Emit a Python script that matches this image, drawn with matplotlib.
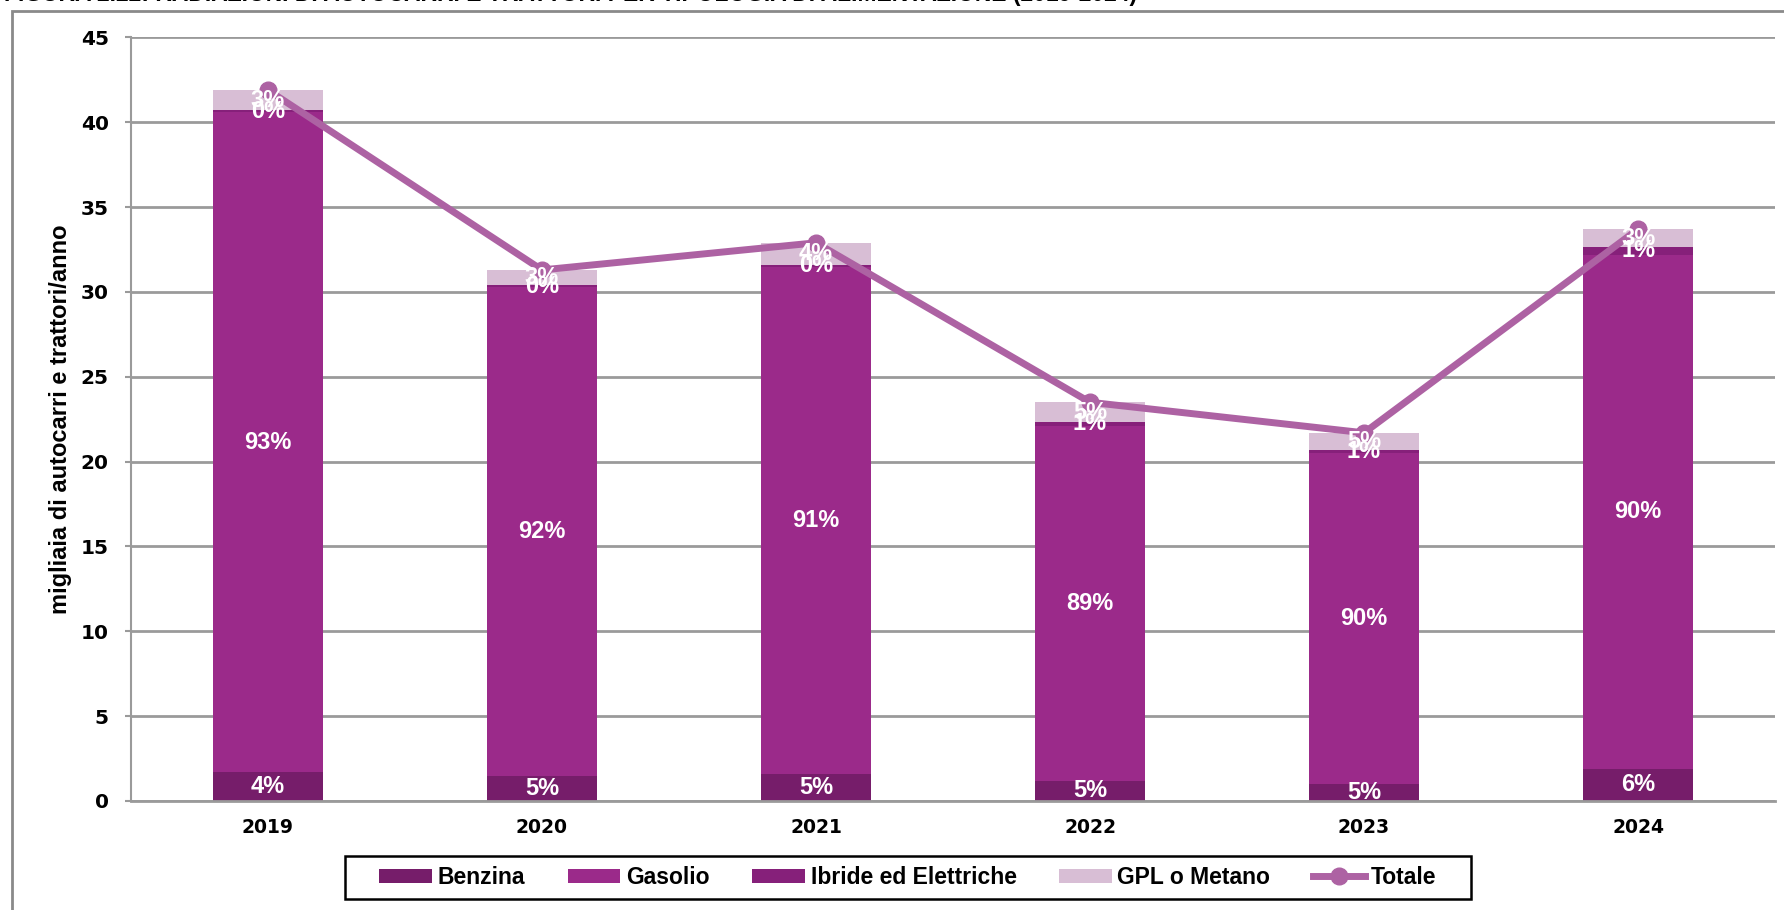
import matplotlib
matplotlib.use("Agg")
import matplotlib.pyplot as plt
from matplotlib.patches import Rectangle
import numpy as np

years = ["2019", "2020", "2021", "2022", "2023", "2024"]
benzina = [1.7, 1.5, 1.6, 1.2, 1.0, 1.9]
gasolio = [38.9, 28.8, 29.9, 20.9, 19.5, 30.3]
ibride = [0.1, 0.1, 0.1, 0.25, 0.2, 0.45]
gpl_metano = [1.2, 0.9, 1.3, 1.15, 1.0, 1.05]
series_names = ["Benzina", "Gasolio", "Ibride ed Elettriche", "GPL o Metano"]
total_name = "Totale"
y_ticks = [0, 5, 10, 15, 20, 25, 30, 35, 40, 45]
title = "FIGURA 2.22: RADIAZIONI DI AUTOCARRI E TRATTORI PER TIPOLOGIA DI ALIMENTAZIONE (2019-2024)"
ylabel = "migliaia di autocarri e trattori/anno"

colors = ["#761D6A", "#9B2A8A", "#86207A", "#D8BED5"]
line_color = "#AD62A3"

series = [benzina, gasolio, ibride, gpl_metano]
totals = np.sum(np.array(series), axis=0)

W, H = 1784, 910
fig = plt.figure(figsize=(W / 100, H / 100), dpi=100)
ax = fig.add_axes([0.0734, 0.1198, 0.9216, 0.839])

x = np.arange(len(years))
bottom = np.zeros(len(years))
handles = []
for vals, col, name in zip(series, colors, series_names):
    vals = np.array(vals)
    bars = ax.bar(x, vals, 0.4, bottom=bottom, color=col, edgecolor="none", zorder=2, label=name)
    handles.append(bars)
    for xi, v, b, t in zip(x, vals, bottom, totals):
        pct = int(round(v / t * 100))
        ax.text(xi, b + v / 2, f"{pct}%", ha="center", va="center", color="white",
                fontsize=17, fontweight="bold", family="Liberation Sans", zorder=5)
    bottom = bottom + vals

ln, = ax.plot(x, totals, color=line_color, lw=5, marker="o", markersize=12, zorder=4, label=total_name)
handles.append(ln)

ax.set_xlim(-0.5, len(years) - 0.5)
ax.set_ylim(0, 45)
ax.set_yticks(y_ticks)
ax.set_xticks(x)
ax.set_xticklabels(years)
ax.yaxis.grid(True, color="#9A9A9A", lw=2, zorder=0)
ax.set_axisbelow(True)
for s in ["top", "right"]:
    ax.spines[s].set_visible(False)
ax.spines["left"].set_color("#9A9A9A")
ax.spines["left"].set_linewidth(1.5)
ax.spines["bottom"].set_color("#9A9A9A")
ax.spines["bottom"].set_linewidth(2)
ax.tick_params(axis="y", length=4, color="#9A9A9A", width=1.5, pad=12)
ax.tick_params(axis="x", length=0, pad=12)
for lab in ax.get_yticklabels():
    lab.set_fontweight("bold")
    lab.set_fontsize(14.5)
    lab.set_family("DejaVu Sans")
for lab in ax.get_xticklabels():
    lab.set_fontweight("bold")
    lab.set_fontsize(13.5)
    lab.set_family("DejaVu Sans")
ax.set_ylabel(ylabel, fontsize=17, fontweight="bold", family="Liberation Sans")
ax.yaxis.set_label_coords(-0.0358, 0.5)

# legend box drawn manually for wide horizontal padding
lx0, ly0, lx1, ly1 = 345, 856, 1471, 899
fig.patches.append(Rectangle((lx0 / W, 1 - ly1 / H), (lx1 - lx0) / W, (ly1 - ly0) / H,
                             transform=fig.transFigure, fill=True, facecolor="white",
                             edgecolor="black", lw=1.8, zorder=1))
leg = fig.legend(handles=handles, labels=series_names + [total_name], loc="center",
                 bbox_to_anchor=((lx0 + lx1) / 2 / W, 1 - (ly0 + ly1) / 2 / H), ncol=5,
                 frameon=False,
                 prop={"family": "Liberation Sans", "weight": "bold", "size": 16.5},
                 handlelength=2.3, handleheight=0.55, handletextpad=0.25, columnspacing=1.85,
                 borderpad=0.3)

fig.text(0.002, 0.9985, title, ha="left", va="baseline", fontsize=16.5, fontweight="bold",
         family="Liberation Sans")
fig.patches.append(Rectangle((12 / W, -0.1), 1.2, 1.1 - 11 / H, transform=fig.transFigure,
                             fill=False, edgecolor="#8A8A8A", lw=2))

fig.savefig("out.png", dpi=100)
